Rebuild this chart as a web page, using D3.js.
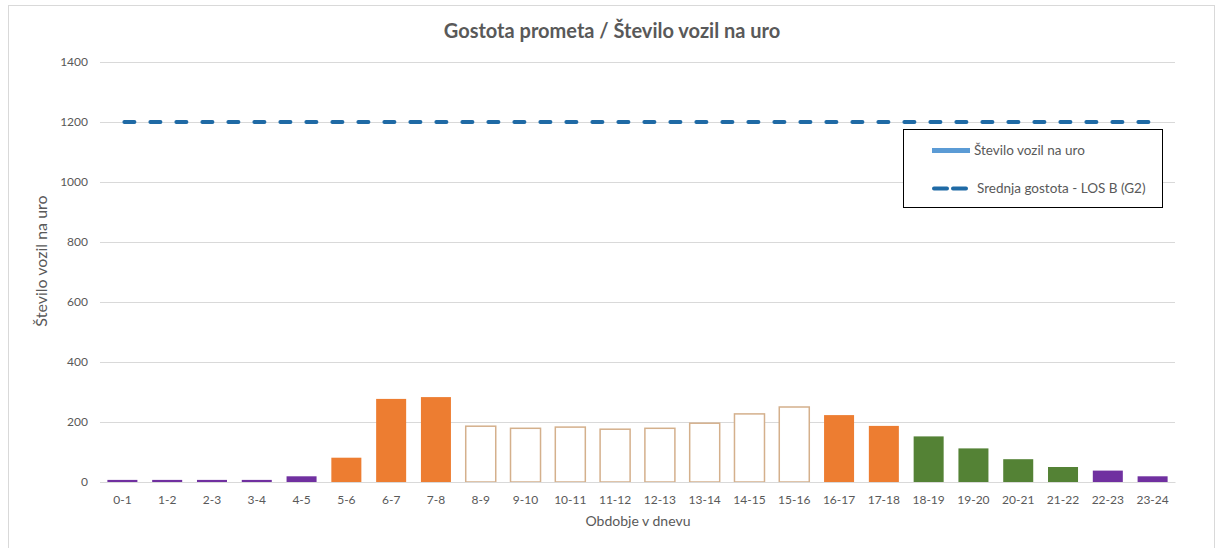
<!DOCTYPE html>
<html>
<head>
  <meta charset="UTF-8">
  <script src="https://d3js.org/d3.v7.min.js"></script>
  <style>
    body { margin: 0; background: #fff; }
    text { font-family: Lato, "Open Sans", sans-serif; fill: #595959; }
  </style>
</head>
<body>
  <script>
    // data
    var periods = ["0-1", "1-2", "2-3", "3-4", "4-5", "5-6", "6-7", "7-8", "8-9", "9-10",
      "10-11", "11-12", "12-13", "13-14", "14-15", "15-16", "16-17", "17-18", "18-19",
      "19-20", "20-21", "21-22", "22-23", "23-24"];
    var vehicles = [7, 7, 7, 7, 19, 81, 277, 283, 186, 179, 183, 176, 179, 196, 227, 250,
      223, 187, 152, 112, 76, 50, 38, 19];
    // which part of the day each hour belongs to
    var dayPart = ["night", "night", "night", "night", "night", "peak", "peak", "peak",
      "day", "day", "day", "day", "day", "day", "day", "day", "peak", "peak",
      "evening", "evening", "evening", "evening", "night", "night"];
    var losB = 1200;
    var yTicks = [0, 200, 400, 600, 800, 1000, 1200, 1400];
    var legendLabels = ["Število vozil na uro", "Srednja gostota - LOS B (G2)"];

    var width = 1216, height = 548;
    var margin = { left: 100, right: 41, top: 62, bottom: 66 };

    var fills = { night: "#7030a0", peak: "#ed7d31", day: "#ffffff", evening: "#548235" };

    var svg = d3.select("body").append("svg")
      .attr("width", width)
      .attr("height", height);

    // chart frame
    svg.append("rect")
      .attr("x", 8.5).attr("y", 5.5)
      .attr("width", 1206).attr("height", 560)
      .attr("fill", "none")
      .attr("stroke", "#d9d9d9");

    var x = d3.scaleBand()
      .domain(periods)
      .range([margin.left, width - margin.right])
      .paddingInner(0.33)
      .paddingOuter(0.165);

    var y = d3.scaleLinear()
      .domain([0, 1400])
      .range([height - margin.bottom, margin.top]);

    // gridlines
    svg.append("g")
      .selectAll("line")
      .data(yTicks)
      .enter().append("line")
      .attr("x1", margin.left)
      .attr("x2", width - margin.right)
      .attr("y1", function(d) { return Math.round(y(d)) + 0.5; })
      .attr("y2", function(d) { return Math.round(y(d)) + 0.5; })
      .attr("stroke", "#d9d9d9")
      .attr("stroke-width", 1);

    // y axis labels
    var yAxis = d3.axisLeft(y).tickValues(yTicks).tickFormat(d3.format("d"))
      .tickSize(0).tickPadding(12);
    var gy = svg.append("g")
      .attr("transform", "translate(" + margin.left + ",0)")
      .call(yAxis);
    gy.select(".domain").remove();
    gy.selectAll("text").style("font-size", "12px").attr("fill", "#595959");

    // bars
    svg.append("g")
      .selectAll("rect")
      .data(vehicles)
      .enter().append("rect")
      .attr("x", function(d, i) { return x(periods[i]); })
      .attr("y", function(d) { return y(d); })
      .attr("width", x.bandwidth())
      .attr("height", function(d) { return y(0) - y(d); })
      .attr("fill", function(d, i) { return fills[dayPart[i]]; })
      .attr("stroke", function(d, i) { return dayPart[i] == "day" ? "#d4b08c" : "none"; })
      .attr("stroke-width", 1.5);

    // x axis
    var xAxis = d3.axisBottom(x).tickSize(0).tickPadding(13);
    var gx = svg.append("g")
      .attr("transform", "translate(0," + y(0) + ")")
      .call(xAxis);
    gx.select(".domain").attr("stroke", "#d9d9d9");
    gx.selectAll("text").style("font-size", "12px").attr("fill", "#595959");

    // LOS B line
    var mid = x.bandwidth() / 2;
    svg.append("line")
      .attr("x1", x(periods[0]) + mid + 2)
      .attr("x2", x(periods[periods.length - 1]) + mid - 2)
      .attr("y1", y(losB))
      .attr("y2", y(losB))
      .attr("stroke", "#1f6aa5")
      .attr("stroke-width", 4)
      .attr("stroke-linecap", "round")
      .attr("stroke-dasharray", "10,16");

    // title and axis titles
    svg.append("text")
      .attr("x", 612).attr("y", 38)
      .attr("text-anchor", "middle")
      .style("font-size", "20px")
      .style("font-weight", "bold")
      .style("fill", "#595959")
      .text("Gostota prometa / Število vozil na uro");

    svg.append("text")
      .attr("x", 638).attr("y", 526)
      .attr("text-anchor", "middle")
      .style("font-size", "14px")
      .text("Obdobje v dnevu");

    svg.append("text")
      .attr("transform", "translate(47,261) rotate(-90)")
      .attr("text-anchor", "middle")
      .style("font-size", "16px")
      .text("Število vozil na uro");

    // legend
    var legend = svg.append("g").attr("transform", "translate(903,129)");
    legend.append("rect")
      .attr("x", 0.5).attr("y", 0.5)
      .attr("width", 259).attr("height", 78)
      .attr("fill", "#fff")
      .attr("stroke", "#000")
      .attr("stroke-width", 1);
    legend.append("rect")
      .attr("x", 29).attr("y", 19)
      .attr("width", 38).attr("height", 5)
      .attr("fill", "#5b9bd5");
    legend.append("line")
      .attr("x1", 31).attr("x2", 66)
      .attr("y1", 59.5).attr("y2", 59.5)
      .attr("stroke", "#1f6aa5")
      .attr("stroke-width", 4)
      .attr("stroke-linecap", "round")
      .attr("stroke-dasharray", "13,6");
    legend.selectAll("text.leg")
      .data(legendLabels)
      .enter().append("text")
      .attr("class", "leg")
      .attr("x", function(d, i) { return i == 0 ? 71 : 74; })
      .attr("y", function(d, i) { return i == 0 ? 26 : 64; })
      .style("font-size", "13.5px")
      .text(function(d) { return d; });
  </script>
</body>
</html>
